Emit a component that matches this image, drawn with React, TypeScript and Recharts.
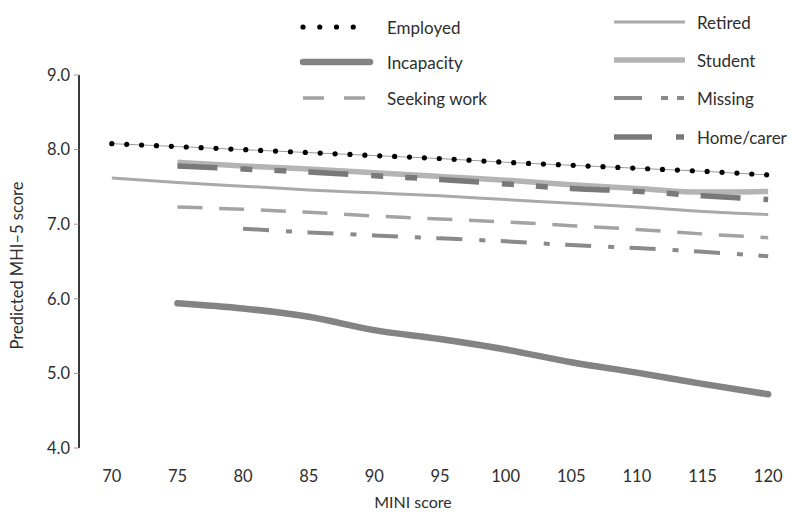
import React from 'react';
import { LineChart, Line, XAxis, YAxis } from 'recharts';

// ---- data ----
const xValues = [70, 75, 80, 85, 90, 95, 100, 105, 110, 115, 120];
const xTickLabels = ['70', '75', '80', '85', '90', '95', '100', '105', '110', '115', '120'];
const yTicks = [4, 5, 6, 7, 8, 9];
const yTickLabels = ['4.0', '5.0', '6.0', '7.0', '8.0', '9.0'];

const employed = [8.08, 8.04, 8.0, 7.96, 7.92, 7.88, 7.83, 7.79, 7.75, 7.71, 7.66];
const incapacity = [null, 5.94, 5.87, 5.76, 5.58, 5.46, 5.32, 5.15, 5.01, 4.86, 4.72];
const seekingWork = [null, 7.23, 7.2, 7.16, 7.11, 7.07, 7.03, 6.98, 6.93, 6.87, 6.82];
const retired = [7.62, 7.56, 7.51, 7.46, 7.42, 7.38, 7.33, 7.28, 7.23, 7.17, 7.13];
const student = [null, 7.83, 7.78, 7.74, 7.69, 7.64, 7.59, 7.53, 7.48, 7.43, 7.44];
const missing = [null, null, 6.94, 6.89, 6.85, 6.81, 6.77, 6.72, 6.68, 6.63, 6.57];
const homeCarer = [null, 7.78, 7.74, 7.7, 7.65, 7.6, 7.54, 7.48, 7.44, 7.38, 7.33];

const seriesNames: Record<string, string> = {
  employed: 'Employed',
  incapacity: 'Incapacity',
  seekingWork: 'Seeking work',
  retired: 'Retired',
  student: 'Student',
  missing: 'Missing',
  homeCarer: 'Home/carer',
};

const data = xValues.map((x, i) => ({
  x,
  employed: employed[i],
  incapacity: incapacity[i],
  seekingWork: seekingWork[i],
  retired: retired[i],
  student: student[i],
  missing: missing[i],
  homeCarer: homeCarer[i],
}));

// band boundaries (ticks sit between categories)
const half = (xValues[1] - xValues[0]) / 2;
const boundaries = xValues.map((v) => v - half);
const xDomain = [xValues[0] - half, xValues[xValues.length - 1] + half];

// ---- styles ----
const FONT = 'Lato, "Open Sans", sans-serif';
const TEXT = '#2e2e2e';

type Style = { color: string; width: number; dash?: string; legendDash?: string; cap?: 'round' | 'butt' };
const styles: Record<string, Style> = {
  employed: { color: '#000', width: 5.2, dash: '0 14.9', legendDash: '0 16.75', cap: 'round' },
  incapacity: { color: '#838383', width: 6.5, cap: 'round' },
  seekingWork: { color: '#a3a3a3', width: 3.5, dash: '25 16.7', legendDash: '21 20', cap: 'butt' },
  retired: { color: '#a9a9a9', width: 3, cap: 'butt' },
  student: { color: '#b4b4b4', width: 5.5, cap: 'butt' },
  missing: { color: '#8a8a8a', width: 4, dash: '26 17 6 15.5', legendDash: '28 19 7 9 7', cap: 'butt' },
  homeCarer: { color: '#797979', width: 5.5, dash: '40 23 12 22 12 22', legendDash: '38 24 8', cap: 'butt' },
};

const drawOrder = ['retired', 'seekingWork', 'missing', 'incapacity', 'student', 'homeCarer'];

const leftLegend = ['employed', 'incapacity', 'seekingWork'];
const leftRows = [27, 62, 98];
const rightLegend = ['retired', 'student', 'missing', 'homeCarer'];
const rightRows = [22, 60, 98, 137];

function LegendItem({ k, y, x1, x2, tx }: { k: string; y: number; x1: number; x2: number; tx: number }) {
  const s = styles[k];
  return (
    <g>
      <line
        x1={x1}
        x2={x2}
        y1={y}
        y2={y}
        stroke={s.color}
        strokeWidth={s.width}
        strokeDasharray={s.legendDash}
        strokeLinecap={s.cap}
      />
      <text x={tx} y={y} dominantBaseline="central" fontFamily={FONT} fontSize={17} fill={TEXT}>
        {seriesNames[k]}
      </text>
    </g>
  );
}

function ChartLegend() {
  return (
    <svg
      width={793}
      height={160}
      style={{ position: 'absolute', left: 0, top: 0, pointerEvents: 'none', zIndex: 2 }}
    >
      {leftLegend.map((k, i) => (
        <LegendItem key={k} k={k} y={leftRows[i]} x1={303} x2={370} tx={387} />
      ))}
      {rightLegend.map((k, i) => (
        <LegendItem key={k} k={k} y={rightRows[i]} x1={614} x2={685} tx={697} />
      ))}
    </svg>
  );
}

const XTitle = (props: any) => {
  const vb = props.viewBox || { x: 0, y: 0, width: 0, height: 0 };
  return (
    <text
      x={vb.x + vb.width / 2 - 27}
      y={vb.y + 53}
      textAnchor="middle"
      dominantBaseline="central"
      fontFamily={FONT}
      fontSize={16}
      fill={TEXT}
    >
      MINI score
    </text>
  );
};

const YTitle = (props: any) => {
  const vb = props.viewBox || { x: 0, y: 0, width: 0, height: 0 };
  const cx = vb.x + 17;
  const cy = vb.y + vb.height / 2 + 4;
  return (
    <text
      x={cx}
      y={cy}
      transform={`rotate(-90, ${cx}, ${cy})`}
      textAnchor="middle"
      dominantBaseline="central"
      fontFamily={FONT}
      fontSize={16.5}
      fill={TEXT}
    >
      Predicted MHI–5 score
    </text>
  );
};

export default function App() {
  return (
    <div
      style={{
        position: 'absolute',
        left: 0,
        top: 0,
        width: 793,
        height: 516,
        overflow: 'hidden',
        background: '#fff',
      }}
    >
      <ChartLegend />
      <LineChart width={801} height={516} data={data} margin={{ top: 75, right: 0, bottom: 0, left: 0 }}>
        <XAxis
          xAxisId="grid"
          dataKey="x"
          type="number"
          domain={xDomain}
          ticks={boundaries}
          interval={0}
          tick={false}
          height={0}
          tickSize={5}
          axisLine={{ stroke: '#3a3a3a', strokeWidth: 2 }}
          tickLine={{ stroke: '#999', strokeWidth: 1 }}
          allowDataOverflow
        />
        <XAxis
          xAxisId="labels"
          dataKey="x"
          type="number"
          domain={xDomain}
          ticks={xValues}
          interval={0}
          tickFormatter={(v: number) => xTickLabels[xValues.indexOf(v)]}
          axisLine={false}
          tickLine={false}
          tickSize={10}
          tickMargin={12}
          height={68}
          tick={{ fontFamily: FONT, fontSize: 16.5, fill: TEXT }}
          label={{ content: XTitle }}
          allowDataOverflow
        />
        <YAxis
          type="number"
          domain={[4, 9]}
          ticks={yTicks}
          interval={0}
          tickFormatter={(v: number) => yTickLabels[yTicks.indexOf(v)]}
          width={79}
          tickSize={5}
          tickMargin={4}
          axisLine={{ stroke: '#3a3a3a', strokeWidth: 2 }}
          tickLine={{ stroke: '#999', strokeWidth: 1 }}
          tick={{ fontFamily: FONT, fontSize: 16.5, fill: TEXT }}
          label={{ content: YTitle }}
          allowDataOverflow
        />
        {drawOrder.map((k) => (
          <Line
            key={k}
            xAxisId="grid"
            type="monotone"
            dataKey={k}
            name={seriesNames[k]}
            stroke={styles[k].color}
            strokeWidth={styles[k].width}
            strokeDasharray={styles[k].dash}
            strokeLinecap={styles[k].cap}
            dot={false}
            activeDot={false}
            isAnimationActive={false}
          />
        ))}
        <Line
          xAxisId="grid"
          type="monotone"
          dataKey="employed"
          name="Employed guide"
          legendType="none"
          stroke="#9a9a9a"
          strokeWidth={1}
          dot={false}
          activeDot={false}
          isAnimationActive={false}
        />
        <Line
          xAxisId="grid"
          type="monotone"
          dataKey="employed"
          name={seriesNames.employed}
          stroke={styles.employed.color}
          strokeWidth={styles.employed.width}
          strokeDasharray={styles.employed.dash}
          strokeLinecap="round"
          dot={false}
          activeDot={false}
          isAnimationActive={false}
        />
      </LineChart>
    </div>
  );
}
